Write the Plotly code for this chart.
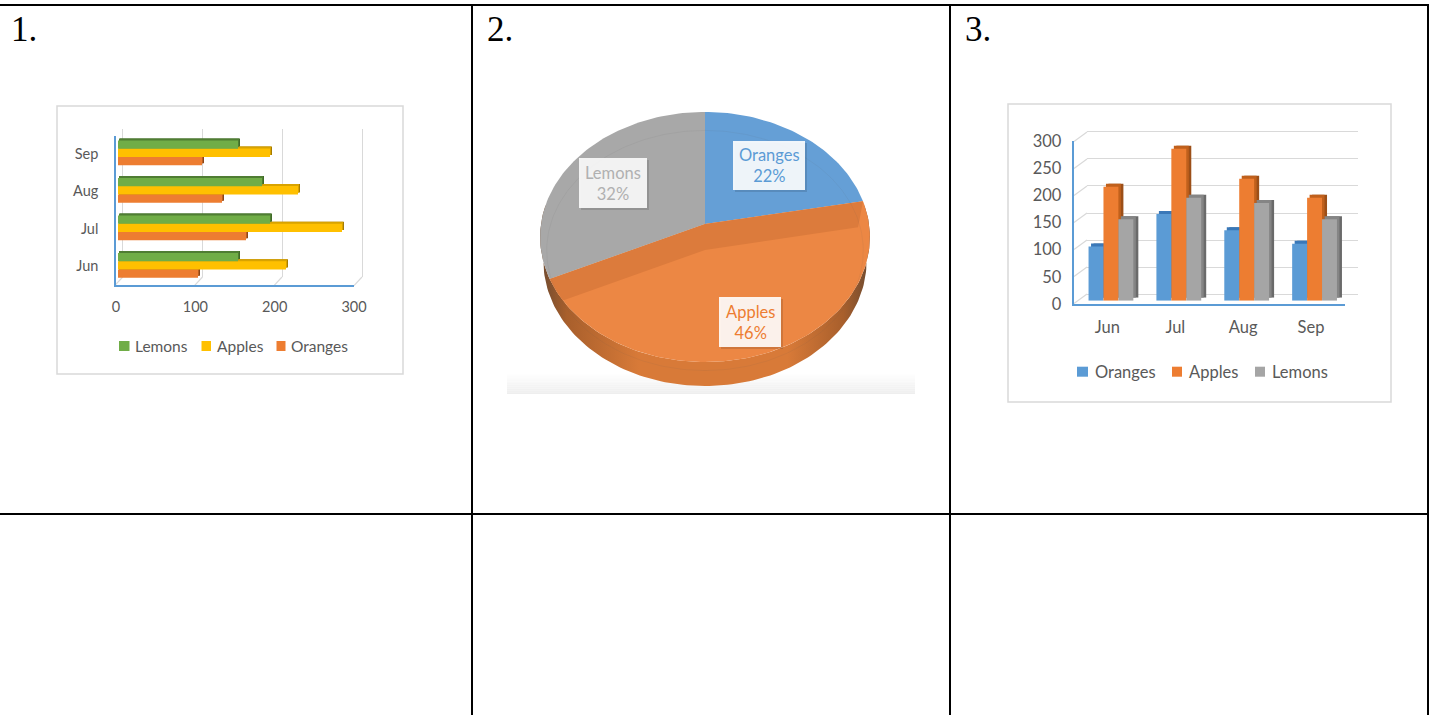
import math
import plotly.graph_objects as go

W, H = 1431, 715

months = ["Jun", "Jul", "Aug", "Sep"]
oranges = [100, 160, 130, 105]
apples = [210, 280, 225, 190]
lemons = [150, 190, 180, 150]

pie_labels = ["Oranges", "Apples", "Lemons"]
pie_shares = [22, 46, 32]
panel_titles = ["1.", "2.", "3."]

BLUE, ORANGE, GREY, GREEN, GOLD = "#5b9bd5", "#ed7d31", "#a5a5a5", "#70ad47", "#ffc000"
AXIS = "#5b9bd5"
TXT = "#595959"
GRID = "#d9d9d9"
FONT = "Lato, Carlito, sans-serif"


def dx(p):
    return p / W


def dy(p):
    return 1 - p / H


fig = go.Figure()
layout = {}
shapes = []
annots = []
count = [1]


def new_axes(x0, x1, ytop, ybot, xopts, yopts, anchor_trace=False):
    """Create an axis pair placed by pixel box; return trace refs."""
    n = count[0]
    count[0] += 1
    sx = "" if n == 1 else str(n)
    xo = dict(domain=[dx(x0), dx(x1)], anchor="y" + sx, showgrid=False, zeroline=False,
              showticklabels=False, ticks="", showline=False)
    yo = dict(domain=[dy(ybot), dy(ytop)], anchor="x" + sx, showgrid=False, zeroline=False,
              showticklabels=False, ticks="", showline=False)
    xo.update(xopts)
    yo.update(yopts)
    layout["xaxis" + sx] = xo
    layout["yaxis" + sx] = yo
    if anchor_trace:
        # an axis pair is only drawn when a trace uses it
        fig.add_trace(go.Scatter(x=[0], y=[0], xaxis="x" + sx, yaxis="y" + sx, mode="markers",
                                 marker=dict(size=1, opacity=0), hoverinfo="skip", showlegend=False))
    return "x" + sx, "y" + sx


def line(x0, y0, x1, y1, color="black", width=2, layer="below"):
    shapes.append(dict(type="line", xref="paper", yref="paper", x0=dx(x0), y0=dy(y0), x1=dx(x1), y1=dy(y1),
                       line=dict(color=color, width=width), layer=layer))


def rect(x0, y0, x1, y1, fill, border=None, bw=1, layer="below"):
    shapes.append(dict(type="rect", xref="paper", yref="paper", x0=dx(x0), y0=dy(y0), x1=dx(x1), y1=dy(y1),
                       fillcolor=fill, line=dict(color=border or "rgba(0,0,0,0)", width=bw if border else 0),
                       layer=layer))


def text(x, y, t, size, color, anchor="left", family=FONT):
    annots.append(dict(xref="paper", yref="paper", x=dx(x), y=dy(y), text=t, showarrow=False, xanchor=anchor,
                       yanchor="middle", align="center", font=dict(family=family, size=size, color=color)))


# ---- document table ----
for x in (472, 950, 1428):
    line(x, 4, x, 715)
line(0, 5, 1429, 5)
line(0, 514, 1429, 514)
for t, x in zip(panel_titles, (9, 485, 963)):
    text(x, 29, t, 35, "black", family="Liberation Serif, serif")

# ---- chart frames ----
rect(57, 106, 403, 374, "white", GRID, 1.5)
rect(1008, 104, 1391, 402, "white", GRID, 1.5)

# ---- pie (2): slices projected from their share of the whole ----
px_x, px_y = new_axes(0, W, 0, H, dict(range=[0, W]), dict(range=[H, 0]))
CX, CY, RX, RY, K, DEPTH = 705, 224, 164, 123.7, 0.104, 24


def proj(theta, drop=0.0):
    u, v = math.sin(theta), math.cos(theta)
    s = 1 / (1 + K * v)
    return CX + RX * u * s, CY - RY * v * s + drop


def arc(a0, a1, drop=0.0):
    n = max(2, int(abs(a1 - a0) * 40))
    pts = [proj(a0 + (a1 - a0) * i / n, drop=drop) for i in range(n + 1)]
    return [p[0] for p in pts], [p[1] for p in pts]


for i in range(12):
    g = 255 - i * 19 // 12
    rect(507, 372 + i * 22 / 12, 915, 372 + (i + 1) * 22 / 12, f"rgb({g},{g},{g})")

total = sum(pie_shares)
angles = [0]
for s in pie_shares:
    angles.append(angles[-1] + 2 * math.pi * s / total)


def fill(xs, ys, color):
    fig.add_trace(go.Scatter(x=xs, y=ys, xaxis=px_x, yaxis=px_y, mode="lines", fill="toself", fillcolor=color,
                             line=dict(width=0, color=color), hoverinfo="skip", showlegend=False))


# outer wall
ax0, ay0 = arc(math.pi * 0.45, math.pi * 1.55)
ax1, ay1 = arc(math.pi * 1.55, math.pi * 0.45, drop=DEPTH)
ax1 = [CX + (a - CX) * 0.98 for a in ax1]
fig.add_trace(go.Scatter(x=ax0 + ax1, y=ay0 + ay1, xaxis=px_x, yaxis=px_y, mode="lines", fill="toself",
                         line=dict(width=0), hoverinfo="skip", showlegend=False,
                         fillgradient=dict(type="horizontal", colorscale=[
                             [0, "#6e4a30"], [0.08, "#a85f2c"], [0.3, "#d87a38"], [0.75, "#d87a38"],
                             [0.92, "#a85f2c"], [1, "#6e4a30"]])))
# top faces
for i, col in enumerate(["#659fd6", "#ec8744", "#a8a8a8"]):
    xs, ys = arc(angles[i], angles[i + 1])
    fill([CX] + xs + [CX], [CY] + ys + [CY], col)


# darker cut faces seen through the apples slice, kept inside its rim
def strip(a, step):
    xe, ye = proj(a)
    xs, ys = [], []
    t = a
    for _ in range(400):
        px, py = proj(t)
        frac = (px - CX) / (xe - CX)
        edge_y = CY + (ye - CY) * frac
        xs.append(px)
        ys.append(py)
        if py - edge_y >= DEPTH + 2:
            break
        t += step
    fill([CX] + xs + [CX, CX], [CY] + ys + [CY + DEPTH + 2, CY], "#dc7b3c")


xe, ye = proj(angles[1])
fill([CX, xe, xe - 5, CX, CX], [CY, ye, ye + DEPTH + 2, CY + DEPTH + 2, CY], "#dc7b3c")
strip(angles[2], -0.004)

# faint inner rim
rx, ry = arc(0, 2 * math.pi)
fig.add_trace(go.Scatter(x=[CX + (a - CX) * 0.96 for a in rx], y=[CY + 14 + (b - CY) * 0.96 for b in ry],
                         xaxis=px_x, yaxis=px_y, mode="lines", line=dict(width=1, color="rgba(90,90,90,0.08)"),
                         hoverinfo="skip", showlegend=False))

boxes = {"Oranges": (733, 141, 805, 190, BLUE, "rgba(255,255,255,0.9)"),
         "Apples": (719, 297, 781, 347, ORANGE, "rgba(255,255,255,0.9)"),
         "Lemons": (579, 158, 647, 208, "#b0b0b0", "rgba(250,250,250,0.92)")}
for lab, share in zip(pie_labels, pie_shares):
    x0, y0, x1, y1, col, bg = boxes[lab]
    rect(x0 + 2, y0 + 2, x1 + 2, y1 + 2, "rgba(0,0,0,0.12)", layer="above")
    rect(x0, y0, x1, y1, bg, layer="above")
    text((x0 + x1) / 2, (y0 + y1) / 2, f"{lab}<br>{share}%", 16.5, col, anchor="center")


# ---- bar charts: front bars plus two offset layers for the 3-D top and side ----
def bars(series, horizontal, xa, ya, lay_colors):
    for (name, vals), col in zip(series, lay_colors):
        kw = dict(x=vals, y=months, orientation="h") if horizontal else dict(x=months, y=vals)
        fig.add_trace(go.Bar(name=name, marker=dict(color=col, line=dict(width=0)), xaxis=xa, yaxis=ya,
                             offsetgroup=name, showlegend=False, hoverinfo="skip", **kw))


def key(y, items, size):
    for name, col, s0, s1, tx in items:
        rect(s0, y - 5, s1, y + 5, col)
        text(tx, y, name, size, TXT)


cat_range = [-0.5, 3.5]
tickv = list(range(len(months)))

# chart 1 (wall grid range is padded so the 0 and 300 lines are drawn)
new_axes(121.1, 363.6, 129, 277,
         dict(range=[-2, 302], showgrid=True, gridcolor=GRID, gridwidth=1.2, dtick=100, tick0=0),
         dict(range=cat_range), anchor_trace=True)
for val_px in (122.7, 202.5, 282, 362):
    line(val_px, 277, val_px - 8, 285.7, GRID, 1.2)
new_axes(116, 354, 135.5, 284.5,
         dict(range=[0, 300], dtick=100, tick0=0, showticklabels=True, showline=True, linecolor=AXIS, linewidth=1.5,
              tickfont=dict(family=FONT, size=14.5, color=TXT), ticklabelstandoff=8),
         dict(range=cat_range, tickvals=tickv, ticktext=months, showticklabels=True, showline=True, linecolor=AXIS,
              linewidth=1.5, tickfont=dict(family=FONT, size=14.5, color=TXT), ticklabelstandoff=13),
         anchor_trace=True)

s1 = [("Oranges", oranges), ("Apples", apples), ("Lemons", lemons)]
for shift_x, shift_y, cols in ((2, 2, ["#8a4517", "#a67c00", "#3f6b27"]),
                               (1, 2, ["#b85f22", "#d9a300", "#4f7d33"]),
                               (0, 0, [ORANGE, GOLD, GREEN])):
    xa, ya = new_axes(118 + shift_x, 358 + shift_x, 134 - shift_y, 284 - shift_y,
                      dict(range=[0, 300]),
                      dict(type="category", categoryorder="array", categoryarray=months, range=cat_range))
    bars(s1, True, xa, ya, cols)
key(346, [("Lemons", GREEN, 119, 129.5, 133), ("Apples", GOLD, 201.5, 211, 214.5),
          ("Oranges", ORANGE, 276.5, 285.5, 289)], 15.5)

# chart 3
new_axes(1087, 1358, 130.9, 295.1, dict(range=cat_range),
         dict(range=[-2, 302], showgrid=True, gridcolor=GRID, gridwidth=1.2, dtick=50, tick0=0), anchor_trace=True)
for i in range(7):
    yb = 294 - i * 27
    line(1087, yb, 1074, yb + 9.5, GRID, 1.2)
new_axes(1073.5, 1345, 141, 304,
         dict(range=cat_range, tickvals=tickv, ticktext=months, showticklabels=True, showline=True, linecolor=AXIS,
              linewidth=2, tickfont=dict(family=FONT, size=16.5, color=TXT), ticklabelstandoff=7),
         dict(range=[0, 300], dtick=50, tick0=0, showticklabels=True, showline=True, linecolor=AXIS, linewidth=1.5,
              tickfont=dict(family=FONT, size=16.5, color=TXT), ticklabelstandoff=7),
         anchor_trace=True)

s3 = [("Oranges", oranges), ("Apples", apples), ("Lemons", lemons)]
for shift_x, shift_y, cols in ((5, 3, ["#3f6f9e", "#9c4f18", "#6a6a6a"]),
                               (2.5, 3, ["#3a78b8", "#c0601c", "#858585"]),
                               (0, 0, [BLUE, ORANGE, GREY])):
    xa, ya = new_axes(1077 + shift_x, 1348.5 + shift_x, 138 - shift_y, 300.7 - shift_y,
                      dict(type="category", categoryorder="array", categoryarray=months, range=cat_range),
                      dict(range=[0, 300]))
    bars(s3, False, xa, ya, cols)
key(371.7, [("Oranges", BLUE, 1077, 1088, 1092.5), ("Apples", ORANGE, 1172, 1182, 1186.5),
            ("Lemons", GREY, 1255, 1265, 1269.5)], 16.5)

fig.update_layout(
    width=W, height=H, margin=dict(l=0, r=0, t=0, b=0, autoexpand=False), autosize=False,
    paper_bgcolor="white", plot_bgcolor="rgba(0,0,0,0)", barmode="group", bargap=0.34, bargroupgap=0,
    showlegend=False, shapes=shapes, annotations=annots,
    **layout,
)
fig.write_html("out.html", config=dict(displayModeBar=False),
               post_script="document.body.style.margin='0';document.body.style.overflow='hidden';")
